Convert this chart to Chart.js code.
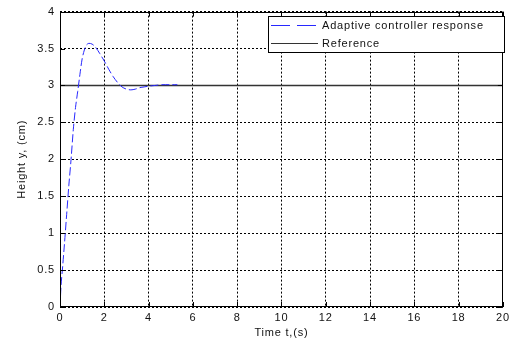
<!DOCTYPE html>
<html><head><meta charset="utf-8">
<script src="https://cdn.jsdelivr.net/npm/chart.js@4/dist/chart.umd.min.js"></script>
<style>html,body{margin:0;padding:0;background:#fff;}canvas{display:block;}</style>
</head><body>
<canvas id="c" width="513" height="341"></canvas>
<script>
const timeValues = [0,0.05,0.12,0.2,0.3,0.4,0.5,0.6,0.7,0.8,0.9,1.0,1.1,1.2,1.3,1.45,1.6,1.8,2.0,2.2,2.4,2.6,2.8,3.0,3.2,3.4,3.6,3.8,4.0,4.3,4.6,5.0,5.3];
const responseValues = [0,0.3,0.55,0.85,1.25,1.65,2.0,2.4,2.7,2.92,3.15,3.36,3.48,3.55,3.57,3.56,3.52,3.43,3.33,3.22,3.12,3.04,2.98,2.95,2.94,2.95,2.97,2.98,2.99,3.0,3.01,3.01,3.01];
const referenceTimes = [0,20];
const referenceValues = [3,3];
const xTicks = [0,2,4,6,8,10,12,14,16,18,20];
const yTicks = [0,0.5,1,1.5,2,2.5,3,3.5,4];
const seriesNames = ['Adaptive controller response','Reference'];
const xTitle = 'Time t,(s)';
const yTitle = 'Height y, (cm)';

const FONT = 'Liberation Sans, Arial, sans-serif';

const framePlugin = {
  id:'frame',
  beforeDraw(chart){ chart.ctx.letterSpacing = '0.8px'; },
  afterDatasetsDraw(chart){
    const {ctx, chartArea:a, scales:{x,y}} = chart;
    ctx.save();
    ctx.letterSpacing = '0px';
    ctx.strokeStyle = '#000'; ctx.lineWidth = 1; ctx.setLineDash([]);
    ctx.strokeRect(Math.round(a.left)+0.5, Math.round(a.top)+0.5, Math.round(a.right-a.left)-1, Math.round(a.bottom-a.top)-1);
    ctx.beginPath();
    const L=5;
    xTicks.forEach(v=>{const px=Math.round(x.getPixelForValue(v))+0.5; ctx.moveTo(px,a.bottom); ctx.lineTo(px,a.bottom-L); ctx.moveTo(px,a.top); ctx.lineTo(px,a.top+L);});
    yTicks.forEach(v=>{const py=Math.round(y.getPixelForValue(v))+0.5; ctx.moveTo(a.left,py); ctx.lineTo(a.left+L,py); ctx.moveTo(a.right,py); ctx.lineTo(a.right-L,py);});
    ctx.stroke();
    // legend
    const lx=268.5, ly=16.5, lw=236, lh=36;
    ctx.fillStyle='#fff'; ctx.fillRect(lx,ly,lw,lh);
    ctx.strokeStyle='#000'; ctx.strokeRect(lx,ly,lw,lh);
    const ds = chart.data.datasets;
    const rows=[25,43];
    ds.forEach((d,i)=>{
      ctx.beginPath();
      ctx.strokeStyle=d.borderColor; ctx.lineWidth=1;
      ctx.setLineDash(i===0?[19,7]:[]);
      ctx.moveTo(271,rows[i]+0.5); ctx.lineTo(318,rows[i]+0.5); ctx.stroke();
      ctx.setLineDash([]);
      ctx.fillStyle='#111'; ctx.font='11px '+FONT; ctx.letterSpacing='0.8px';
      ctx.textBaseline='middle'; ctx.textAlign='left';
      ctx.fillText(d.label, 322, rows[i]+1);
    });
    ctx.restore();
  }
};

new Chart(document.getElementById('c'), {
  type:'line',
  data:{datasets:[
    {label:seriesNames[0], data:timeValues.map((t,i)=>({x:t,y:responseValues[i]})), borderColor:'rgb(40,40,255)', borderWidth:1, borderDash:[8,3], pointRadius:0, tension:0.3, fill:false},
    {label:seriesNames[1], data:referenceTimes.map((t,i)=>({x:t,y:referenceValues[i]})), borderColor:'#333', borderWidth:1.5, pointRadius:0, tension:0, fill:false}
  ]},
  options:{
    responsive:false, animation:false, devicePixelRatio:1,
    layout:{padding:{left:0,top:11,right:8,bottom:0}},
    plugins:{legend:{display:false}, tooltip:{enabled:false}},
    scales:{
      x:{type:'linear', min:0, max:20,
        afterBuildTicks(s){ s.ticks = xTicks.map(v=>({value:v})); },
        afterFit(s){ s.height = 34; },
        ticks:{color:'#111', font:{family:FONT,size:11}, padding:4, maxRotation:0, autoSkip:false, callback:v=>String(v)},
        grid:{color:'#000', lineWidth:1, drawTicks:false, tickLength:0},
        border:{display:false, dash:[2,2]},
        title:{display:true, text:xTitle, color:'#111', font:{family:FONT,size:11}, padding:{top:0,bottom:1.5}}
      },
      y:{type:'linear', min:0, max:4,
        afterBuildTicks(s){ s.ticks = yTicks.map(v=>({value:v})); },
        afterFit(s){ s.width = 60; },
        ticks:{color:'#111', font:{family:FONT,size:11}, padding:5, autoSkip:false, callback:v=>String(v)},
        grid:{color:'#000', lineWidth:1, drawTicks:false, tickLength:0},
        border:{display:false, dash:[2,2]},
        title:{display:true, text:yTitle, color:'#111', font:{family:FONT,size:11}, padding:{top:15.4,bottom:0}}
      }
    }
  },
  plugins:[framePlugin]
});
</script>
</body></html>
